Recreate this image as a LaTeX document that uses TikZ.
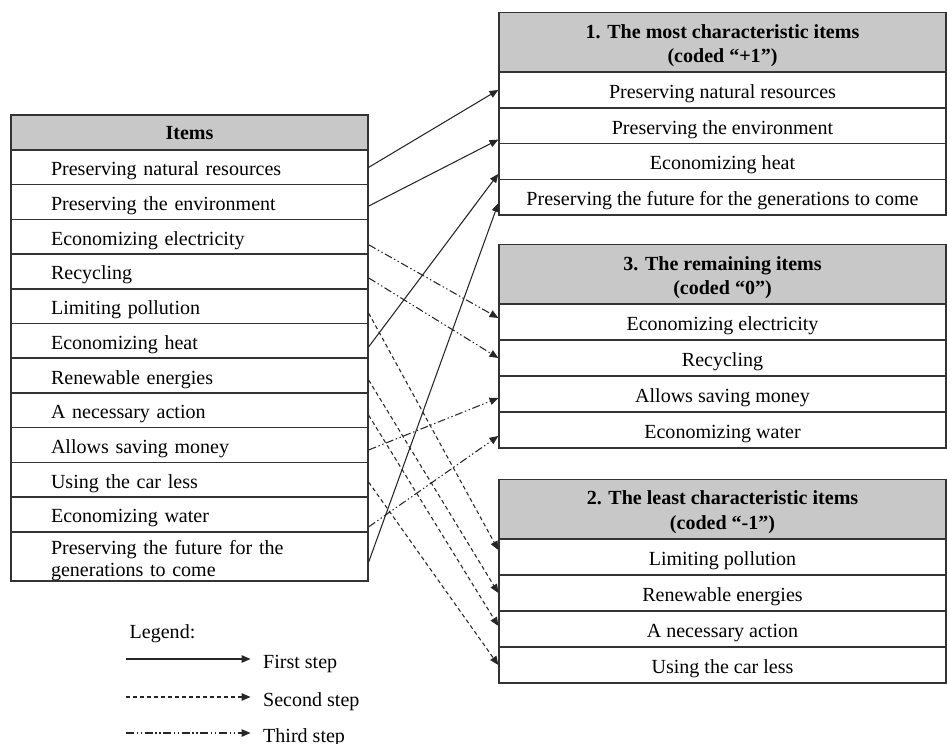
\documentclass[tikz,border=0pt]{standalone}
\usepackage{fontspec}
\setmainfont{Liberation Serif}
\usetikzlibrary{arrows.meta}
\definecolor{headgray}{RGB}{200,200,200}
\tikzset{
  box/.style={draw=black!80, line width=0.8pt, inner ysep=0pt},
  lhead/.style={box, fill=headgray, minimum width=7.14cm, minimum height=0.7cm, text height=11pt, text depth=2.5pt, font=\fontsize{11.4}{13}\selectfont\bfseries},
  lrow/.style={box, minimum width=7.14cm, minimum height=0.694cm, text width=5.54cm, inner xsep=0.8cm, align=left, text height=12.2pt, text depth=2.5pt},
  rhead/.style={box, fill=headgray, minimum width=8.94cm, minimum height=1.19cm, align=center, text height=26.3pt, text depth=3pt, font=\fontsize{11.4}{14.2}\selectfont\bfseries},
  rrow/.style={box, minimum width=8.94cm, minimum height=0.716cm, text height=12.2pt, text depth=2.5pt},
  first/.style={line width=0.6pt, black!85, -{Triangle[length=5pt,width=4.2pt]}},
  second/.style={first, dash pattern=on 2.3pt off 1.7pt},
  third/.style={first, dash pattern=on 4.5pt off 1.5pt on 0.8pt off 1.5pt on 0.8pt off 1.5pt}
}
\begin{document}
\begin{tikzpicture}[x=0.02cm, y=-0.02cm, font=\fontsize{11.4}{13}\selectfont]
	\useasboundingbox (0,0) rectangle (947,744);
	% items
	\node [lhead] (I0) at (189.5,132.5) {Items};
	\node [lrow] (I1) at (189.5,167.35) {Preserving natural resources};
	\node [lrow] (I2) at (189.5,202.05) {Preserving the environment};
	\node [lrow] (I3) at (189.5,236.75) {Economizing electricity};
	\node [lrow] (I4) at (189.5,271.45) {Recycling};
	\node [lrow] (I5) at (189.5,306.15) {Limiting pollution};
	\node [lrow] (I6) at (189.5,340.85) {Economizing heat};
	\node [lrow] (I7) at (189.5,375.55) {Renewable energies};
	\node [lrow] (I8) at (189.5,410.25) {A necessary action};
	\node [lrow] (I9) at (189.5,444.95) {Allows saving money};
	\node [lrow] (I10) at (189.5,479.65) {Using the car less};
	\node [lrow] (I11) at (189.5,514.35) {Economizing water};
	\node [lrow, minimum height=0.98cm, text height=12.5pt, text depth=15.3pt] (I12) at (189.5,556.5) {Preserving the future for the\\generations to come};
	% most characteristic
	\node [rhead] (P0) at (722.5,42.5) {1. The most characteristic items\\(coded “+1”)};
	\node [rrow] (P1) at (722.5,89.9) {Preserving natural resources};
	\node [rrow] (P2) at (722.5,125.6) {Preserving the environment};
	\node [rrow] (P3) at (722.5,161.4) {Economizing heat};
	\node [rrow] (P4) at (722.5,197.1) {Preserving the future for the generations to come};
	% remaining
	\node [rhead] (R0) at (722.5,274.5) {3. The remaining items\\(coded “0”)};
	\node [rrow] (R1) at (722.5,322) {Economizing electricity};
	\node [rrow] (R2) at (722.5,358) {Recycling};
	\node [rrow] (R3) at (722.5,394) {Allows saving money};
	\node [rrow] (R4) at (722.5,430) {Economizing water};
	% least characteristic
	\node [rhead] (L0) at (722.5,509) {2. The least characteristic items\\(coded “-1”)};
	\node [rrow] (L1) at (722.5,557) {Limiting pollution};
	\node [rrow] (L2) at (722.5,593) {Renewable energies};
	\node [rrow] (L3) at (722.5,629) {A necessary action};
	\node [rrow] (L4) at (722.5,665) {Using the car less};
	% first step
	\draw [first] (I1.east) -- (P1.west);
	\draw [first] ([yshift=-0.08cm]I2.east) -- ([yshift=-0.28cm]P2.west);
	\draw [first] ([yshift=-0.12cm]I6.east) -- ([yshift=-0.25cm]P3.west);
	\draw [first] ([yshift=-0.11cm]I12.east) -- ([yshift=-0.12cm]P4.west);
	% second step
	\draw [second] ([yshift=-0.14cm]I5.east) -- ([yshift=0.14cm]L1.west);
	\draw [second] ([yshift=-0.09cm]I7.east) -- (L2.west);
	\draw [second] ([yshift=-0.1cm]I8.east) -- ([yshift=0.06cm]L3.west);
	\draw [second] ([yshift=-0.05cm]I10.east) -- (L4.west);
	% third step
	\draw [third] ([yshift=-0.16cm]I3.east) -- ([yshift=0.08cm]R1.west);
	\draw [third] ([yshift=-0.13cm]I4.east) -- (R2.west);
	\draw [third] ([yshift=-0.1cm]I9.east) -- ([yshift=-0.08cm]R3.west);
	\draw [third] ([yshift=-0.25cm]I11.east) -- ([yshift=-0.12cm]R4.west);
	% legend
	\node [anchor=base west] (leg) at (123.5,638) {Legend:};
	\coordinate (a1) at (126,659);
	\coordinate (a2) at (126,697);
	\coordinate (a3) at (126,733);
	\node [anchor=base west] (s1) at (257,668) {First step};
	\node [anchor=base west] (s2) at (257,706) {Second step};
	\node [anchor=base west] (s3) at (257,742) {Third step};
	\draw [first, shorten >=0.13cm] (a1) -- (a1 -| s1.west);
	\draw [second, shorten >=0.13cm] (a2) -- (a2 -| s2.west);
	\draw [third, shorten >=0.13cm] (a3) -- (a3 -| s3.west);
\end{tikzpicture}
\end{document}
